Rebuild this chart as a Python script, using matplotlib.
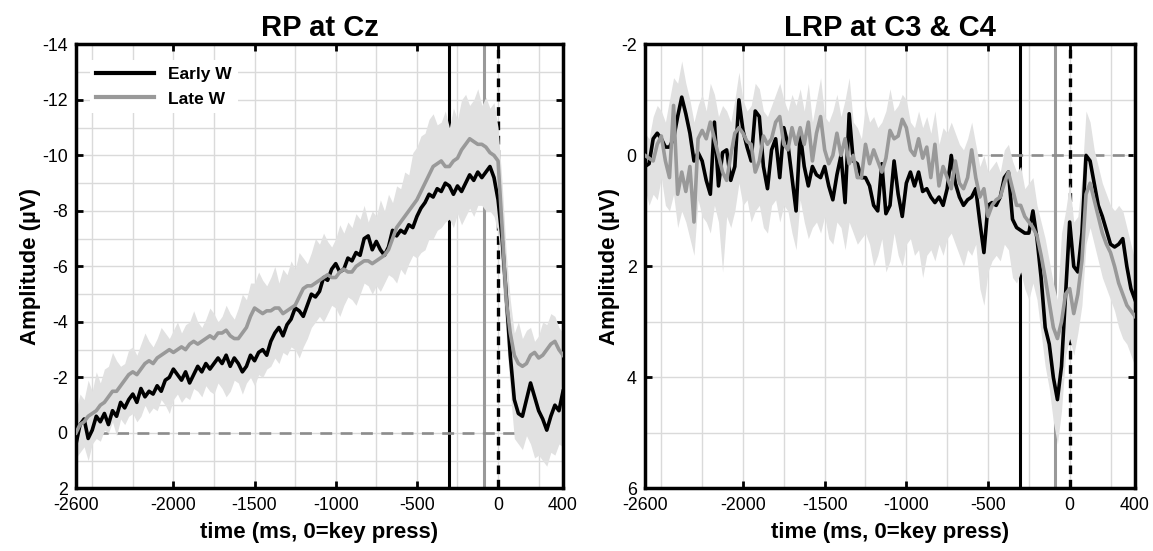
import numpy as np
import matplotlib
matplotlib.use("Agg")
import matplotlib.pyplot as plt

plt.rcParams["font.family"] = ["Liberation Sans", "DejaVu Sans"]
plt.rcParams["axes.unicode_minus"] = False

# sample grid (ms, 0 = key press), 25 ms steps
time_ms = np.arange(-2600, 401, 25)

# RP at Cz (uV)
rp_early = [
    0.4, -0.3, -0.5, 0.2, -0.1, -0.6, -0.4, -0.7, -0.3, -0.8,
    -0.6, -1.1, -0.9, -1.2, -1.4, -1.1, -1.6, -1.3, -1.5, -1.4,
    -1.7, -1.5, -1.9, -2.0, -2.3, -2.1, -1.9, -2.2, -1.8, -2.1,
    -2.4, -2.2, -2.5, -2.3, -2.5, -2.7, -2.5, -2.8, -2.4, -2.7,
    -2.5, -2.2, -2.4, -2.8, -2.6, -2.9, -3.0, -2.8, -3.3, -3.6,
    -3.8, -3.5, -3.9, -4.1, -4.5, -4.4, -4.2, -4.6, -5.0, -4.9,
    -5.1, -5.6, -5.5, -5.9, -6.1, -5.8, -5.9, -6.3, -6.2, -6.5,
    -6.4, -7.0, -7.1, -6.6, -6.9, -6.6, -6.4, -6.7, -7.3, -7.1,
    -7.3, -7.2, -7.5, -7.4, -7.8, -8.1, -8.3, -8.6, -8.5, -8.8,
    -8.7, -9.0, -8.9, -8.6, -8.9, -8.7, -9.0, -9.3, -9.1, -9.4,
    -9.2, -9.4, -9.6, -9.2, -8.4, -7.0, -5.0, -2.8, -1.2, -0.7,
    -0.6, -1.2, -1.8, -1.3, -0.8, -0.5, -0.1, -0.6, -1.0, -0.8,
    -1.5,
]
rp_late = [
    0.0, -0.3, -0.4, -0.6, -0.7, -0.8, -1.0, -1.1, -1.3, -1.5,
    -1.5, -1.7, -1.9, -2.1, -2.2, -2.1, -2.3, -2.5, -2.6, -2.5,
    -2.7, -2.8, -2.9, -3.0, -2.9, -3.0, -3.1, -3.0, -3.2, -3.3,
    -3.2, -3.3, -3.4, -3.5, -3.4, -3.6, -3.6, -3.7, -3.5, -3.4,
    -3.4, -3.6, -3.8, -4.2, -4.5, -4.4, -4.3, -4.4, -4.4, -4.5,
    -4.5, -4.3, -4.4, -4.5, -4.6, -4.9, -5.2, -5.3, -5.3, -5.4,
    -5.5, -5.6, -5.7, -5.6, -5.6, -5.8, -5.9, -5.8, -5.8, -6.0,
    -6.1, -6.2, -6.2, -6.1, -6.2, -6.3, -6.4, -6.6, -7.0, -7.4,
    -7.6, -7.8, -8.0, -8.2, -8.4, -8.7, -9.0, -9.3, -9.6, -9.7,
    -9.8, -9.6, -9.6, -9.8, -9.9, -10.2, -10.4, -10.6, -10.5, -10.4,
    -10.4, -10.3, -10.1, -10.0, -9.8, -7.4, -4.8, -3.6, -2.8, -2.5,
    -2.4, -2.5, -2.8, -2.9, -2.7, -2.8, -3.0, -3.2, -3.3, -3.0,
    -2.8,
]
# error band edges
rp_band_top = [
    -0.8, -1.4, -1.2, -1.9, -1.5, -2.2, -1.8, -2.3, -2.4, -2.9,
    -2.6, -2.4, -2.5, -3.0, -3.1, -2.8, -3.2, -3.6, -3.3, -3.1,
    -3.4, -3.8, -3.6, -3.4, -3.7, -4.0, -3.6, -3.9, -4.0, -4.4,
    -4.0, -3.8, -4.1, -4.5, -4.3, -4.0, -4.2, -4.6, -4.3, -4.1,
    -4.5, -5.0, -4.8, -5.4, -5.4, -5.8, -5.5, -5.3, -5.6, -6.0,
    -5.4, -5.9, -5.7, -6.2, -5.9, -6.5, -6.3, -6.1, -6.5, -7.0,
    -6.8, -7.2, -6.9, -6.7, -7.0, -7.5, -7.2, -7.6, -7.4, -7.9,
    -7.7, -8.2, -7.6, -8.0, -7.8, -8.4, -8.0, -8.6, -8.3, -8.9,
    -8.8, -9.4, -9.3, -10.1, -10.3, -10.7, -10.8, -11.3, -11.5, -11.1,
    -11.2, -11.6, -11.0, -11.7, -11.3, -12.0, -12.2, -11.8, -12.0, -12.4,
    -11.8, -12.1, -11.7, -11.9, -11.0, -9.0, -6.5, -4.8, -3.6, -4.0,
    -3.4, -3.7, -3.8, -3.3, -3.5, -4.0, -3.9, -4.3, -4.2, -3.8,
    -3.6,
]
rp_band_bottom = [
    0.9, 0.7, 0.5, 1.0, 0.4, 0.2, 0.3, -0.1, 0.0, -0.4,
    0.1, -0.5, -0.3, -0.6, -0.7, -0.4, -0.6, -1.0, -0.7, -0.9,
    -0.8, -1.2, -1.0, -0.7, -1.2, -1.4, -1.1, -1.3, -1.2, -1.6,
    -1.5, -1.3, -1.7, -1.5, -1.4, -1.8, -1.6, -1.3, -1.5, -1.9,
    -1.8, -1.4, -1.8, -2.0, -1.7, -2.1, -2.0, -2.3, -2.4, -2.7,
    -2.5, -2.9, -2.8, -3.1, -3.0, -2.7, -3.1, -3.4, -3.8, -4.0,
    -4.2, -4.0, -4.3, -4.6, -4.5, -4.2, -4.6, -4.9, -4.8, -4.6,
    -5.0, -5.4, -5.3, -5.0, -5.3, -5.1, -5.4, -5.7, -5.6, -5.4,
    -5.9, -5.7, -6.1, -6.4, -6.3, -6.5, -6.6, -7.0, -7.0, -7.3,
    -7.4, -7.6, -7.7, -7.4, -7.9, -7.5, -7.8, -8.1, -7.8, -8.2,
    -8.2, -8.0, -8.0, -7.8, -7.2, -5.5, -3.5, -1.5, 0.2, 0.4,
    0.6, 0.1, 0.4, 0.9, 0.8, 1.0, 1.2, 0.7, 0.8, 0.4,
    0.5,
]

# LRP at C3 & C4 (uV)
lrp_early = [
    0.2, 0.15, -0.3, -0.4, -0.3, -0.15, -0.15, -0.3, -0.7, -1.05,
    -0.75, -0.4, 0.1, -0.05, 0.1, 0.45, 0.7, -0.6, 0.55, -0.05,
    -0.1, 0.45, 0.2, -1.0, -0.45, -0.15, 0.1, -0.8, -0.7, 0.2,
    0.6, -0.1, -0.3, 0.4, -0.5, -0.2, 0.4, 1.0, -0.4, 0.2,
    0.55, 0.2, 0.35, 0.4, 0.2, 0.55, 0.8, 0.35, 0.0, 0.85,
    -0.75, 0.1, 0.15, 0.4, 0.4, 0.55, 0.9, 1.0, 0.15, 1.05,
    0.9, 0.1, 0.7, 1.1, 0.5, 0.3, 0.55, 0.3, 0.65, 0.6,
    0.75, 0.85, 0.75, 0.9, 0.6, 0.0, 0.5, 0.75, 0.9, 0.8,
    0.75, 0.6, 1.2, 1.75, 0.9, 0.85, 0.9, 0.75, 0.4, 0.3,
    1.15, 1.3, 1.35, 1.4, 1.4, 1.0, 1.5, 2.2, 3.1, 3.4,
    4.0, 4.4, 3.8, 2.5, 1.2, 2.0, 2.1, 1.4, 0.0, 0.1,
    0.5, 0.9, 1.1, 1.35, 1.6, 1.65, 1.6, 1.5, 2.0, 2.4,
    2.6,
]
lrp_late = [
    0.0, 0.05, 0.1, -0.2, -0.35, 0.1, 0.4, -0.9, 0.7, 0.3,
    0.65, 0.2, 1.2, -0.3, -0.45, -0.3, -0.6, -0.3, 0.0, 0.3,
    0.45, 0.0, -0.4, -0.5, -0.4, -0.25, -0.2, 0.3, 0.1, -0.35,
    -0.2, -0.3, -0.6, -0.7, -0.2, -0.1, -0.5, -0.2, -0.5, -0.2,
    -0.6, 0.1, -0.4, -0.7, -0.1, 0.15, 0.0, -0.4, 0.0, -0.3,
    0.15, 0.0, 0.4, 0.4, -0.2, 0.15, -0.1, 0.1, 0.3, 0.05,
    -0.45, -0.3, -0.35, -0.65, -0.5, -0.1, 0.0, -0.3, 0.05, -0.15,
    0.4, -0.2, 0.55, 0.2, 0.4, 0.6, 0.1, 0.5, 0.6, 0.4,
    -0.1, 0.4, 0.75, 0.6, 1.1, 0.9, 0.8, 0.75, 0.5, 0.3,
    0.6, 0.9, 0.9, 1.1, 1.2, 1.3, 1.45, 1.8, 2.2, 2.65,
    3.1, 3.3, 3.0, 2.5, 2.4, 2.85, 2.5, 1.9, 0.7, 0.5,
    0.8, 1.1, 1.4, 1.6, 1.75, 2.0, 2.3, 2.5, 2.7, 2.8,
    2.9,
]
lrp_band_top = [
    -0.4, -0.3, -0.7, -0.9, -0.8, -0.6, -1.0, -1.4, -1.3, -1.7,
    -1.3, -1.0, -0.6, -0.9, -1.1, -0.8, -1.3, -1.1, -0.7, -0.9,
    -0.8, -0.6, -1.0, -1.5, -1.0, -0.8, -0.9, -1.3, -1.2, -0.8,
    -0.7, -0.9, -1.1, -1.3, -1.0, -0.8, -1.1, -0.9, -1.2, -0.8,
    -1.3, -0.6, -1.0, -1.4, -0.7, -0.6, -0.8, -1.1, -0.7, -1.0,
    -1.4, -0.6, -0.5, -0.3, -0.9, -0.6, -0.7, -0.5, -0.6, -0.8,
    -1.2, -0.8, -0.9, -1.1, -1.0, -0.6, -0.5, -0.8, -0.5, -0.7,
    -0.4, -0.8, -0.2, -0.5, -0.4, -0.6, -0.4, -0.2, -0.1, -0.3,
    -0.6, -0.2, 0.2, 0.0, 0.3, 0.2, 0.1, 0.3, -0.1, -0.2,
    0.1, 0.3, 0.2, 0.6, 0.5, 0.4, 0.9, 1.2, 1.5, 1.9,
    2.3, 2.6, 1.4, 1.0, 0.5, 1.2, 1.1, 0.4, -0.8, -0.6,
    -0.1, 0.2, 0.5, 0.7, 0.9, 1.0, 0.9, 1.0, 1.3, 1.6,
    1.9,
]
lrp_band_bottom = [
    0.6, 0.9, 0.7, 0.8, 0.4, 0.9, 1.0, 0.7, 1.3, 1.0,
    1.2, 1.5, 1.8, 0.8, 1.1, 1.2, 1.4, 0.9, 1.2, 2.1,
    1.1, 1.3, 1.0, 0.5, 0.9, 0.8, 1.2, 1.0, 0.9, 1.3,
    1.4, 0.9, 0.8, 1.2, 0.9, 1.0, 1.4, 1.7, 0.8, 1.2,
    1.5, 1.3, 1.2, 1.4, 1.1, 1.5, 1.6, 1.2, 1.3, 1.7,
    1.2, 1.4, 1.6, 1.5, 1.4, 1.6, 2.0, 1.8, 1.5, 2.1,
    1.9, 1.4, 1.8, 2.0, 1.6, 1.5, 1.8, 1.7, 2.2, 1.8,
    1.7, 1.9, 1.6, 1.8, 1.5, 1.4, 1.6, 1.8, 2.0, 1.7,
    1.8, 1.6, 2.4, 2.7, 2.1, 1.9, 1.8, 1.9, 1.6, 1.7,
    2.2, 2.3, 2.1, 2.4, 2.6, 2.3, 2.6, 3.2, 3.8, 4.2,
    4.8, 5.2, 4.6, 3.6, 3.3, 3.6, 3.2, 2.7, 1.6, 1.3,
    1.6, 1.9, 2.2, 2.4, 2.6, 2.8, 3.1, 3.3, 3.4, 3.6,
    3.8,
]

early_color = "black"
late_color = "#999999"
band_color = "#e1e1e1"
grid_color = "#dadada"

x_ticks = [-2600, -2000, -1500, -1000, -500, 0, 400]
x_minor = [-2500, -2250, -1750, -1250, -750, -250, 250]
early_w_ms = -305  # mean W time, early group
late_w_ms = -88    # mean W time, late group


def draw_panel(ax, title, early, late, band_top, band_bottom, ylim):
    """Draw one ERP panel in the boxed Matlab-like style"""
    ax.set_axisbelow(True)
    ax.axvline(early_w_ms, color=early_color, lw=2.2, zorder=1)
    ax.axvline(late_w_ms, color=late_color, lw=2.2, zorder=1)
    ax.axvline(0, color=early_color, lw=2.4, ls=(0, (2.6, 1.7)), zorder=1)
    ax.axhline(0, color="#8c8c8c", lw=1.9, ls=(0, (4.5, 3.2)), zorder=1)

    ax.fill_between(time_ms, band_top, band_bottom, color=band_color,
                    lw=0, zorder=2)
    ax.plot(time_ms, early, color=early_color, lw=2.6, label="Early W",
            zorder=3, solid_joinstyle="round")
    ax.plot(time_ms, late, color=late_color, lw=2.6, label="Late W",
            zorder=3, solid_joinstyle="round")

    ax.set_xlim(-2600, 400)
    ax.set_ylim(*ylim)
    ax.set_xticks(x_ticks)
    ax.set_xticks(x_minor, minor=True)
    lo, hi = ylim[1], ylim[0]
    ax.set_yticks(np.arange(lo, hi + 1, 2))
    ax.set_yticks(np.arange(lo + 1, hi, 2), minor=True)
    ax.grid(True, which="both", color=grid_color, lw=1.0)
    ax.tick_params(which="major", direction="in", length=5, width=2,
                   top=True, right=True, labelsize=12.8, pad=6)
    ax.tick_params(which="minor", length=0)
    for sp in ax.spines.values():
        sp.set_linewidth(2.5)

    ax.set_title(title, fontsize=21, fontweight="bold", pad=6)
    ax.set_xlabel("time (ms, 0=key press)", fontsize=16,
                  fontweight="bold", labelpad=6)
    ax.set_ylabel("Amplitude (\u00b5V)", fontsize=16, fontweight="bold",
                  labelpad=1)


fig = plt.figure(figsize=(11.53, 5.51), dpi=100)
ax_rp = fig.add_axes([0.0659, 0.1136, 0.4224, 0.8058])
ax_lrp = fig.add_axes([0.5594, 0.1136, 0.4250, 0.8058])

draw_panel(ax_rp, "RP at Cz", rp_early, rp_late,
           rp_band_top, rp_band_bottom, (2, -14))
draw_panel(ax_lrp, "LRP at C3 & C4", lrp_early, lrp_late,
           lrp_band_top, lrp_band_bottom, (6, -2))

leg = ax_rp.legend(loc="upper left", bbox_to_anchor=(0.01, 0.985),
                   frameon=True, fancybox=False, edgecolor="none",
                   facecolor="white", framealpha=1.0, handlelength=3.3,
                   handletextpad=0.8, labelspacing=0.55,
                   prop={"weight": "bold", "size": 12.5})
for line in leg.get_lines():
    line.set_linewidth(3)

fig.savefig("out.png", dpi=100)
